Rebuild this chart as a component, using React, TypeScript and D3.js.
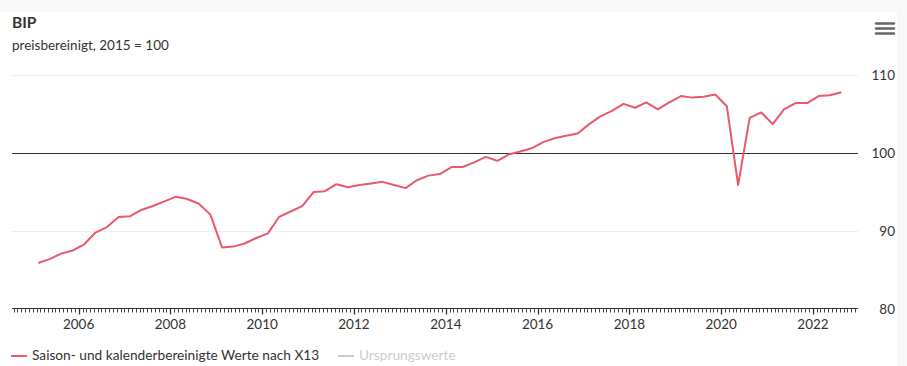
import React, { useRef, useEffect } from 'react';
import * as d3 from 'd3';

// BIP, preisbereinigt, 2015 = 100 -- quarterly, 2005 Q1 .. 2022 Q3
const firstYear = 2005;
const bipValues = [
  85.9, 86.4, 87.1, 87.5, 88.3, 89.8, 90.5, 91.8, 91.9, 92.7, 93.2, 93.8,
  94.4, 94.1, 93.5, 92.1, 87.9, 88.0, 88.4, 89.1, 89.7, 91.8, 92.5, 93.2,
  95.0, 95.1, 96.0, 95.6, 95.9, 96.1, 96.3, 95.9, 95.5, 96.5, 97.1, 97.3,
  98.2, 98.2, 98.8, 99.5, 99.0, 99.8, 100.2, 100.6, 101.4, 101.9, 102.2, 102.5,
  103.7, 104.7, 105.4, 106.3, 105.8, 106.5, 105.6, 106.5, 107.3, 107.1, 107.2, 107.5,
  106.0, 95.9, 104.5, 105.2, 103.7, 105.6, 106.4, 106.4, 107.3, 107.4, 107.8,
];
const yTicks = [80, 90, 100, 110];
const xTickYears = [2006, 2008, 2010, 2012, 2014, 2016, 2018, 2020, 2022];
const legendLabels = ['Saison- und kalenderbereinigte Werte nach X13', 'Ursprungswerte'];

const W = 907;
const H = 366;
const FONT = 'Lato, "Noto Sans", sans-serif';

const App = () => {
  const ref = useRef<SVGSVGElement | null>(null);

  useEffect(() => {
    const svg = d3.select(ref.current);
    svg.selectAll('*').remove();

    // page + chart background
    svg.append('rect').attr('width', W).attr('height', H).attr('fill', '#f8f8f8');
    svg.append('rect').attr('y', 12).attr('width', 897).attr('height', H - 12).attr('fill', '#fff');

    // quarter midpoints
    const data = bipValues.map((v, i) => ({
      date: new Date(firstYear + Math.floor(i / 4), (i % 4) * 3 + 1, 15),
      value: v,
    }));

    const x = d3
      .scaleTime()
      .domain([new Date(2004, 6, 20), new Date(2022, 11, 25)])
      .range([12, 858]);

    const y = d3.scaleLinear().domain([80, 110]).range([309, 75]);

    // title
    svg.append('text').attr('x', 12).attr('y', 28).text('BIP')
      .attr('font-family', FONT).attr('font-size', 15.5).attr('font-weight', 700).attr('fill', '#333');
    svg.append('text').attr('x', 12).attr('y', 50).text('preisbereinigt, 2015 = 100')
      .attr('font-family', FONT).attr('font-size', 13.5).attr('fill', '#333');

    // menu icon
    [23.5, 28.5, 33.5].forEach((yy) => {
      svg.append('line').attr('x1', 876).attr('x2', 894).attr('y1', yy).attr('y2', yy)
        .attr('stroke', '#666').attr('stroke-width', 2.4).attr('stroke-linecap', 'round');
    });

    // grid
    svg.append('g')
      .selectAll('line')
      .data(yTicks.filter((t) => t !== 100 && t !== 80))
      .enter()
      .append('line')
      .attr('x1', 12).attr('x2', 858)
      .attr('y1', (d) => Math.round(y(d)) + 0.5).attr('y2', (d) => Math.round(y(d)) + 0.5)
      .attr('stroke', '#eeeeee');

    // y labels (right side)
    svg.append('g')
      .selectAll('text')
      .data(yTicks)
      .enter()
      .append('text')
      .attr('x', 895)
      .attr('y', (d) => y(d) + 5)
      .attr('text-anchor', 'end')
      .attr('font-family', FONT).attr('font-size', 13.5).attr('fill', '#333')
      .text((d) => d);

    // x axis
    const axisY = Math.round(y(80)) - 0.5;
    const xAxis = svg.append('g').attr('transform', `translate(0,${axisY})`);
    xAxis.append('line').attr('x1', 12).attr('x2', 858).attr('stroke', '#333');
    const months = x.ticks(d3.timeMonth.every(1)!);
    xAxis.selectAll('.minor')
      .data(months)
      .enter()
      .append('line')
      .attr('x1', (d) => Math.round(x(d)) + 0.5).attr('x2', (d) => Math.round(x(d)) + 0.5)
      .attr('y1', 0).attr('y2', 4)
      .attr('stroke', '#444').attr('stroke-width', 1);
    const majors = xTickYears.map((yr) => new Date(yr, 0, 1));
    xAxis.selectAll('.major')
      .data(majors)
      .enter()
      .append('line')
      .attr('x1', (d) => Math.round(x(d)) + 0.5).attr('x2', (d) => Math.round(x(d)) + 0.5)
      .attr('y1', 0).attr('y2', 6)
      .attr('stroke', '#333').attr('stroke-width', 1.3);
    xAxis.selectAll('.lbl')
      .data(majors)
      .enter()
      .append('text')
      .attr('x', (d) => x(d))
      .attr('y', 20)
      .attr('text-anchor', 'middle')
      .attr('font-family', FONT).attr('font-size', 13.5).attr('fill', '#333')
      .text((d) => d.getFullYear());

    // 100 reference line
    svg.append('line')
      .attr('x1', 12).attr('x2', 858)
      .attr('y1', Math.round(y(100)) + 0.5).attr('y2', Math.round(y(100)) + 0.5)
      .attr('stroke', '#333');

    // series
    const line = d3
      .line<{ date: Date; value: number }>()
      .x((d) => x(d.date))
      .y((d) => y(d.value));
    svg.append('path')
      .datum(data)
      .attr('d', line)
      .attr('fill', 'none')
      .attr('stroke', '#e8596d')
      .attr('stroke-width', 2)
      .attr('stroke-linejoin', 'round');

    // legend
    const lg = svg.append('g').attr('font-family', FONT).attr('font-size', 13.7);
    lg.append('line').attr('x1', 11).attr('x2', 27).attr('y1', 356).attr('y2', 356)
      .attr('stroke', '#e8596d').attr('stroke-width', 2);
    lg.append('text').attr('x', 32).attr('y', 360).attr('fill', '#333').text(legendLabels[0]);
    lg.append('line').attr('x1', 338).attr('x2', 354).attr('y1', 356).attr('y2', 356)
      .attr('stroke', '#ccc').attr('stroke-width', 2);
    lg.append('text').attr('x', 359).attr('y', 360).attr('fill', '#ccc').text(legendLabels[1]);
  }, []);

  return (
    <svg
      ref={ref}
      width={W}
      height={H}
      style={{ position: 'absolute', left: 0, top: 0 }}
    />
  );
};

export default App;
